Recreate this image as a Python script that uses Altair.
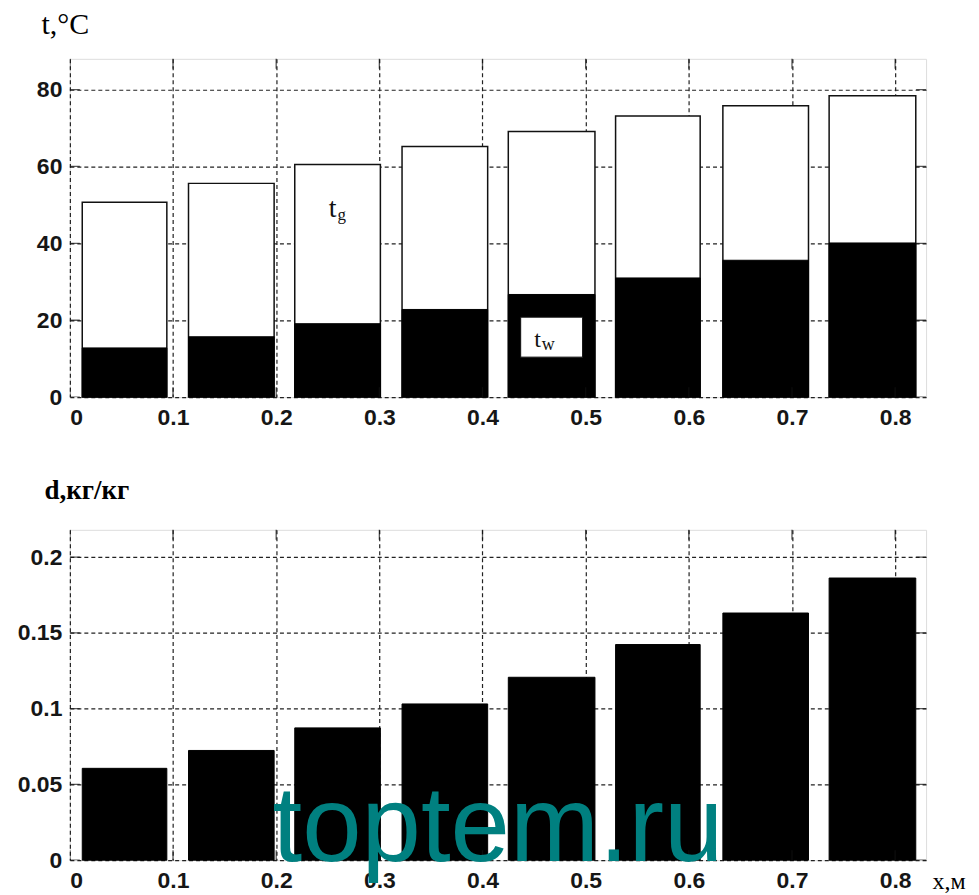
import altair as alt
import pandas as pd

# ---- data ----
bar_x0 = [0.012, 0.115, 0.218, 0.322, 0.425, 0.529, 0.633, 0.736]
bar_x1 = [0.094, 0.198, 0.301, 0.405, 0.509, 0.611, 0.716, 0.820]
t_g = [50.7, 55.6, 60.5, 65.2, 69.1, 73.1, 75.8, 78.4]
t_w = [12.8, 15.7, 19.1, 22.8, 26.7, 31.0, 35.6, 40.1]
d_vals = [0.0606, 0.0724, 0.0873, 0.1031, 0.1207, 0.1423, 0.1631, 0.1862]

x_ticks = [0, 0.1, 0.2, 0.3, 0.4, 0.5, 0.6, 0.7, 0.8]
t_ticks = [0, 20, 40, 60, 80]
d_ticks = [0, 0.05, 0.1, 0.15, 0.2]

W = 858
H1 = 339
H2 = 331

LABEL_FONT = "Liberation Sans"
SERIF = "Liberation Serif"

top_df = pd.DataFrame({"x0": bar_x0, "x1": bar_x1, "tg": t_g, "tw": t_w})
bot_df = pd.DataFrame({"x0": bar_x0, "x1": bar_x1, "d": d_vals})

x_scale = alt.Scale(domain=[0, 0.83], nice=False, zero=False)
grid_kw = dict(grid=True, gridColor="#222222", gridDash=[4, 3], gridWidth=1.2,
               domain=False, ticks=False, labelFont=LABEL_FONT, labelFontSize=23,
               labelFontWeight="bold", labelColor="#161616")

x_axis_top = alt.Axis(values=x_ticks, labelPadding=9, title=None,
                      labelExpr="datum.value == 0 ? '0' : format(datum.value, '.1f')",
                      **grid_kw)
x_axis_bot = alt.Axis(values=x_ticks, labelPadding=9, title="x,м",
                      labelExpr="datum.value == 0 ? '0' : format(datum.value, '.1f')",
                      titleFont=SERIF, titleFontSize=24, titleFontWeight="normal",
                      titleX=W + 6, titleY=28, titleAlign="left",
                      titleBaseline="alphabetic", titleAnchor="start",
                      **grid_kw)

y_axis_top = alt.Axis(values=t_ticks, labelPadding=8, title="t,°C",
                      titleFont=SERIF, titleFontSize=30, titleFontWeight="normal",
                      titleAngle=0, titleX=-29, titleY=-25, titleAlign="left",
                      titleBaseline="alphabetic", **grid_kw)
y_axis_bot = alt.Axis(values=d_ticks, labelPadding=8, title="d,кг/кг",
                      labelExpr="format(datum.value, '~f')",
                      titleFont=SERIF, titleFontSize=27, titleFontWeight="bold",
                      titleAngle=0, titleX=-26, titleY=-31, titleAlign="left",
                      titleBaseline="alphabetic", **grid_kw)

t_scale = alt.Scale(domain=[0, 88], nice=False)
d_scale = alt.Scale(domain=[0, 0.218], nice=False)

# ---- top panel ----
base_top = alt.Chart(top_df)
white = base_top.mark_rect(fill="white", stroke="#111111", strokeWidth=1.5).encode(
    x=alt.X("x0:Q", scale=x_scale, axis=x_axis_top),
    x2="x1:Q",
    y=alt.Y("tg:Q", scale=t_scale, axis=y_axis_top),
    y2=alt.datum(0),
)
black_top = base_top.mark_rect(fill="black", stroke="black", strokeWidth=1).encode(
    x=alt.X("x0:Q", scale=x_scale),
    x2="x1:Q",
    y=alt.Y("tw:Q", scale=t_scale),
    y2=alt.datum(0),
)

xt_df = pd.DataFrame({"v": x_ticks})
tt_df = pd.DataFrame({"v": t_ticks})
dt_df = pd.DataFrame({"v": d_ticks})


def xticks(height):
    b = alt.Chart(xt_df)
    return [
        b.mark_tick(clip=True, size=20, thickness=1.3, color="#111", orient="vertical").encode(
            x=alt.X("v:Q", scale=x_scale), y=alt.value(pos))
        for pos in (0, height)
    ]


def yticks(df, scale):
    b = alt.Chart(df)
    return [
        b.mark_tick(clip=True, size=20, thickness=1.3, color="#111", orient="horizontal").encode(
            y=alt.Y("v:Q", scale=scale), x=alt.value(pos))
        for pos in (0, W)
    ]


# annotations (labels inside the chart)
tg_df = pd.DataFrame({"x": [0.2547], "y": [46.8]})
tg_t = alt.Chart(tg_df).mark_text(text="t", font=SERIF, fontSize=28, align="center",
                                  baseline="alphabetic", color="#111").encode(
    x=alt.X("x:Q", scale=x_scale), y=alt.Y("y:Q", scale=t_scale))
tg_s = alt.Chart(tg_df).mark_text(text="g", font=SERIF, fontSize=17, align="left",
                                  baseline="alphabetic", color="#111", dx=5, dy=3).encode(
    x=alt.X("x:Q", scale=x_scale), y=alt.Y("y:Q", scale=t_scale))

box_df = pd.DataFrame({"x0": [0.437], "x1": [0.497], "y0": [10.4], "y1": [20.8]})
tw_box = alt.Chart(box_df).mark_rect(fill="white", stroke="#111", strokeWidth=1).encode(
    x=alt.X("x0:Q", scale=x_scale), x2="x1:Q",
    y=alt.Y("y0:Q", scale=t_scale), y2="y1:Q")
tw_df = pd.DataFrame({"x": [0.4535], "y": [13.0]})
tw_t = alt.Chart(tw_df).mark_text(text="t", font=SERIF, fontSize=24, align="center",
                                  baseline="alphabetic", color="#111").encode(
    x=alt.X("x:Q", scale=x_scale), y=alt.Y("y:Q", scale=t_scale))
tw_s = alt.Chart(tw_df).mark_text(text="w", font=SERIF, fontSize=18, align="left",
                                  baseline="alphabetic", color="#111", dx=4, dy=3).encode(
    x=alt.X("x:Q", scale=x_scale), y=alt.Y("y:Q", scale=t_scale))

top = alt.layer(white, black_top, *xticks(H1), *yticks(tt_df, t_scale),
                tg_t, tg_s, tw_box, tw_t, tw_s).properties(width=W, height=H1)

# ---- bottom panel ----
base_bot = alt.Chart(bot_df)
black_bot = base_bot.mark_rect(fill="black", stroke="black", strokeWidth=1).encode(
    x=alt.X("x0:Q", scale=x_scale, axis=x_axis_bot),
    x2="x1:Q",
    y=alt.Y("d:Q", scale=d_scale, axis=y_axis_bot),
    y2=alt.datum(0),
)
wm_df = pd.DataFrame({"x": [0.415], "y": [0.0]})
watermark = alt.Chart(wm_df).mark_text(text="toptem.ru", font="Liberation Sans", fontSize=107,
                                       align="center", baseline="alphabetic",
                                       color="#008080", dy=1).encode(
    x=alt.X("x:Q", scale=x_scale), y=alt.Y("y:Q", scale=d_scale))

bottom = alt.layer(black_bot, *xticks(H2), *yticks(dt_df, d_scale), watermark).properties(
    width=W, height=H2)

chart = alt.vconcat(top, bottom, spacing=46).configure_view(
    stroke="#111111", strokeWidth=1.5
).configure(background="white").properties(padding={"left": 8, "top": 0, "right": 5, "bottom": 5})

chart.save("out.html", embed_options={"renderer": "svg", "actions": False})
